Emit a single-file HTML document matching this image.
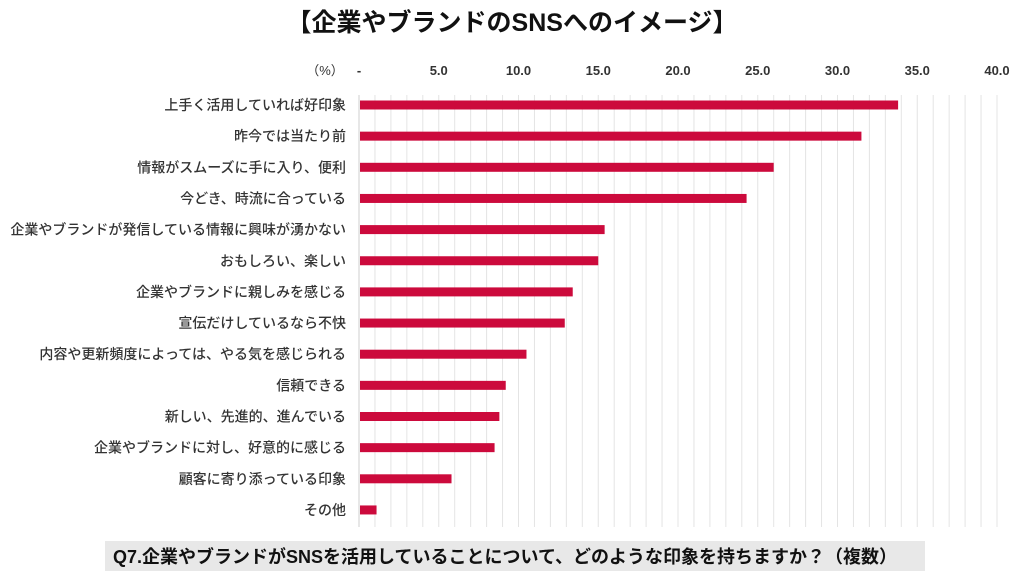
<!DOCTYPE html>
<html><head><meta charset="utf-8"><style>
body{margin:0;background:#fff;}
svg text{font-family:"Liberation Sans","Noto Sans CJK JP",sans-serif;}
</style></head><body>
<svg id="chart" width="1024" height="579" xmlns="http://www.w3.org/2000/svg">
<text x="512" y="31" text-anchor="middle" font-size="25" font-weight="bold" fill="#111">【企業やブランドのSNSへのイメージ】</text>
<g id="grid"></g><g id="ticks"></g><g id="bars"></g><g id="labels"></g>
<rect x="105" y="541" width="820" height="30" fill="#e8e8e8"/>
<text x="113" y="563" font-size="18" font-weight="bold" fill="#111">Q7.企業やブランドがSNSを活用していることについて、どのような印象を持ちますか？（複数）</text>
</svg>
<script>
const categories=["上手く活用していれば好印象","昨今では当たり前","情報がスムーズに手に入り、便利","今どき、時流に合っている","企業やブランドが発信している情報に興味が湧かない","おもしろい、楽しい","企業やブランドに親しみを感じる","宣伝だけしているなら不快","内容や更新頻度によっては、やる気を感じられる","信頼できる","新しい、先進的、進んでいる","企業やブランドに対し、好意的に感じる","顧客に寄り添っている印象","その他"];
const values=[33.8,31.5,26.0,24.3,15.4,15.0,13.4,12.9,10.5,9.2,8.8,8.5,5.8,1.1];
const tickValues=[0,5,10,15,20,25,30,35,40];
const tickLabels=["-","5.0","10.0","15.0","20.0","25.0","30.0","35.0","40.0"];
const NS="http://www.w3.org/2000/svg";
const x0=359,x1=997,maxV=40,gridTop=95,gridBot=527;
const firstY=105,band=31.15;
const xs=v=>x0+(x1-x0)*v/maxV;
const yc=i=>firstY+band*i;
function mk(tag,attrs,parent,txt){const e=document.createElementNS(NS,tag);for(const k in attrs)e.setAttribute(k,attrs[k]);if(txt!=null)e.textContent=txt;document.getElementById(parent).appendChild(e);return e;}
for(let v=0;v<=maxV;v++){
  const l=mk('line',{x1:xs(v),x2:xs(v),y1:gridTop,y2:gridBot,stroke:v===0?'#cfcfcf':'#e4e4e4','stroke-width':1},'grid');
  
  
}
tickValues.forEach((v,i)=>{
  const t=mk('text',{x:xs(v),y:75,'text-anchor':'middle','font-size':13,'font-weight':'bold',fill:'#333'},'ticks',tickLabels[i]);
  
  
});
const u=mk('text',{x:325,y:75,'text-anchor':'middle','font-size':13,fill:'#333'},'ticks','（%）');


categories.forEach((c,i)=>{
  const b=mk('rect',{x:x0+1,y:yc(i)-4.5,width:xs(values[i])-x0-1,height:9,fill:'#cc0a3c'},'bars');
  
  
  const t=mk('text',{x:346,y:yc(i)+5,'text-anchor':'end','font-size':14,'font-weight':500,fill:'#333'},'labels',c);
  
  
});
</script>
</body></html>
